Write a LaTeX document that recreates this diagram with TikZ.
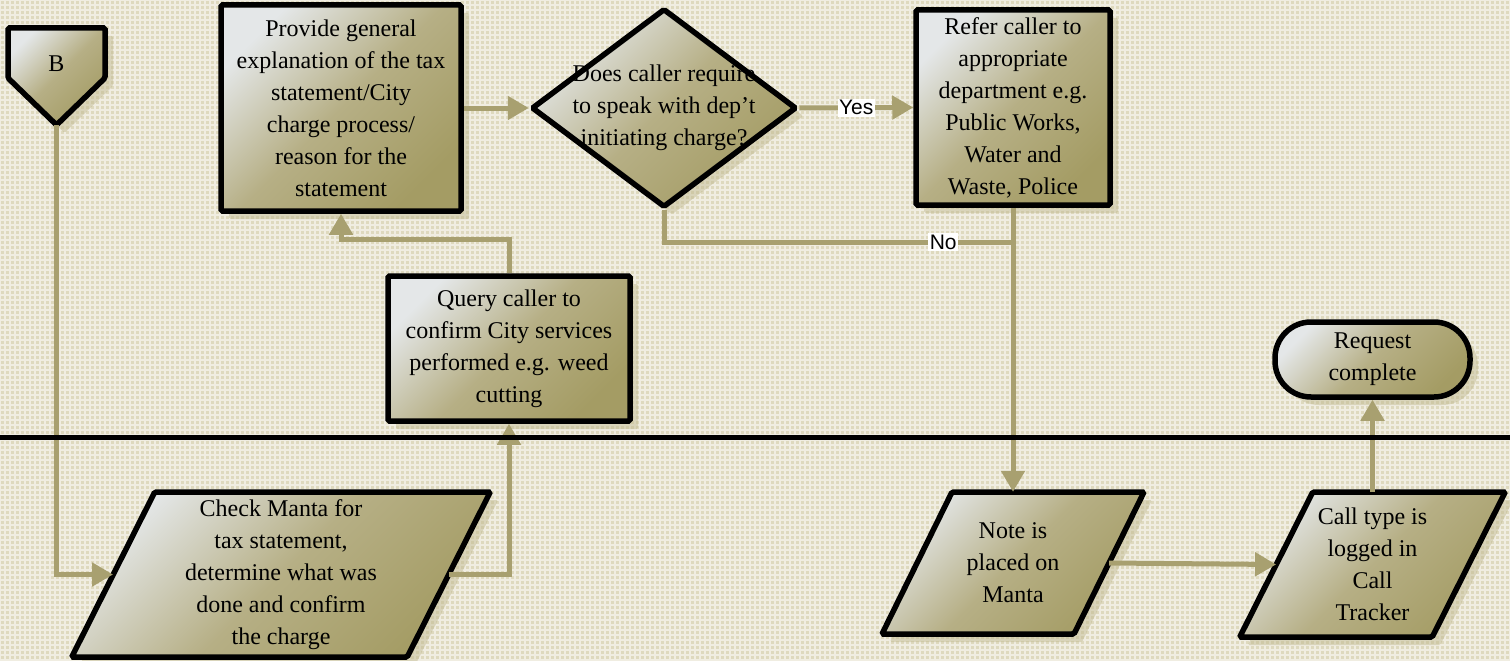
\documentclass[tikz,border=0pt]{standalone}
\usepackage{fontspec}
\setmainfont{Liberation Serif}
\newfontfamily\lbsans{Liberation Sans}
\usetikzlibrary{arrows.meta,shapes.geometric,calc,shadows}
\definecolor{bgc}{RGB}{222,217,190}
\definecolor{olivec}{RGB}{164,156,100}
\definecolor{lightc}{RGB}{228,231,232}
\definecolor{midc}{RGB}{182,175,133}
\definecolor{linec}{RGB}{168,160,112}
\definecolor{shadowc}{RGB}{190,182,140}
\tikzset{
  shapefill/.style={top color=lightc, bottom color=olivec, middle color=midc, shading angle=45},
  outline/.style={draw=black, line width=5.5pt, rounded corners=1.5pt},
  softshadow/.style={drop shadow={shadow xshift=8pt, shadow yshift=-8pt, opacity=.45, fill=shadowc}},
  procbox/.style={rectangle, outline, shapefill, softshadow, inner sep=0pt, align=center, font=\fontsize{24}{32}\selectfont},
  txt/.style={align=center, font=\fontsize{24}{32}\selectfont, inner sep=0pt},
  conn/.style={draw=linec, line width=5pt, -{Triangle[length=21pt,width=23pt]}},
  connl/.style={draw=linec, line width=5pt},
  lbl/.style={fill=white, inner sep=1.5pt, font=\lbsans\fontsize{21}{23}\selectfont},
  pshape/.style={outline, shapefill, softshadow},
}
% parallelogram: center x, center y, half mid-width, half height, half offset
\newcommand\pgram[5]{%
  \path[pshape] ({#1-#3+#5},{#2-#4}) -- ({#1+#3+#5},{#2-#4}) -- ({#1+#3-#5},{#2+#4}) -- ({#1-#3-#5},{#2+#4}) -- cycle;}
\begin{document}
\begin{tikzpicture}[x=1pt, y=-1pt]
\useasboundingbox (0,0) rectangle (1510,661);
% background
\fill[bgc] (0,0) rectangle (1510,661);
\draw[white, opacity=.55, line width=1.3pt] (0,0) grid[step=5pt] (1510,661);

% shapes drawn directly
\path[outline, shapefill, softshadow] (8,28) -- (105,28) -- (105,78) -- (56.5,125) -- (8,78) -- cycle;
\pgram{281}{574.5}{167.75}{82.5}{41.5}
\pgram{1013}{563}{96}{71}{35}
\pgram{1372.5}{564.5}{96.25}{72.5}{36.5}

% nodes
\node[txt] (bnode) at (56.5,64) {B};
\coordinate (bpt) at (56.5,125);
\node[txt, minimum width=335.5pt, minimum height=165pt] (chk) at (281,574.5)
  {Check Manta for\\tax statement,\\determine what was\\done and confirm\\the charge};
\node[txt, minimum width=192pt, minimum height=142pt] (note) at (1013,563)
  {Note is\\placed on\\Manta};
\node[txt, minimum width=192.5pt, minimum height=145pt] (call) at (1372.5,564.5)
  {Call type is\\logged in\\Call\\Tracker};

\node[procbox, minimum width=240pt, minimum height=206pt] (prov) at (341,108)
  {Provide general\\explanation of the tax\\statement/City\\charge process/\\reason for the\\statement};
\node[diamond, outline, shapefill, softshadow, minimum width=265pt, minimum height=199pt, inner sep=0pt] (dec) at (664,108) {};
\node[txt] (dect) at (664,108) {Does caller require\\to speak with dep’t\\initiating charge?};
\node[procbox, minimum width=194pt, minimum height=195pt] (ref) at (1013,107.5)
  {Refer caller to\\appropriate\\department e.g.\\Public Works,\\Water and\\Waste, Police};
\node[procbox, minimum width=242pt, minimum height=145pt] (qry) at (509,348.5)
  {Query caller to\\confirm City services\\performed e.g. weed\\cutting};
\node[procbox, rounded corners=36pt, minimum width=195pt, minimum height=75pt] (req) at (1372.5,359.5)
  {Request\\complete};

% connectors
\coordinate (jn) at (1013,242);
\draw[conn] (bpt) |- (chk.west);
\draw[conn] (chk.east) -| (qry.south);
\draw[conn] (qry.north) -- ++(0,-34) -| (prov.south);
\draw[conn] (prov.east) -- (dec.west);
\draw[conn] (dec.east) -- node[lbl] {Yes} (ref.west);
\draw[connl] (dec.south) |- node[lbl, pos=0.9] {No} (jn);
\draw[conn] (ref.south) -- (note.north);
\draw[conn] (note.east) -- (call.west);
\draw[conn] (call.north) -- (req.south);

% lane divider
\draw[black, line width=5pt] (0,437) -- (1510,437);
\end{tikzpicture}
\end{document}
